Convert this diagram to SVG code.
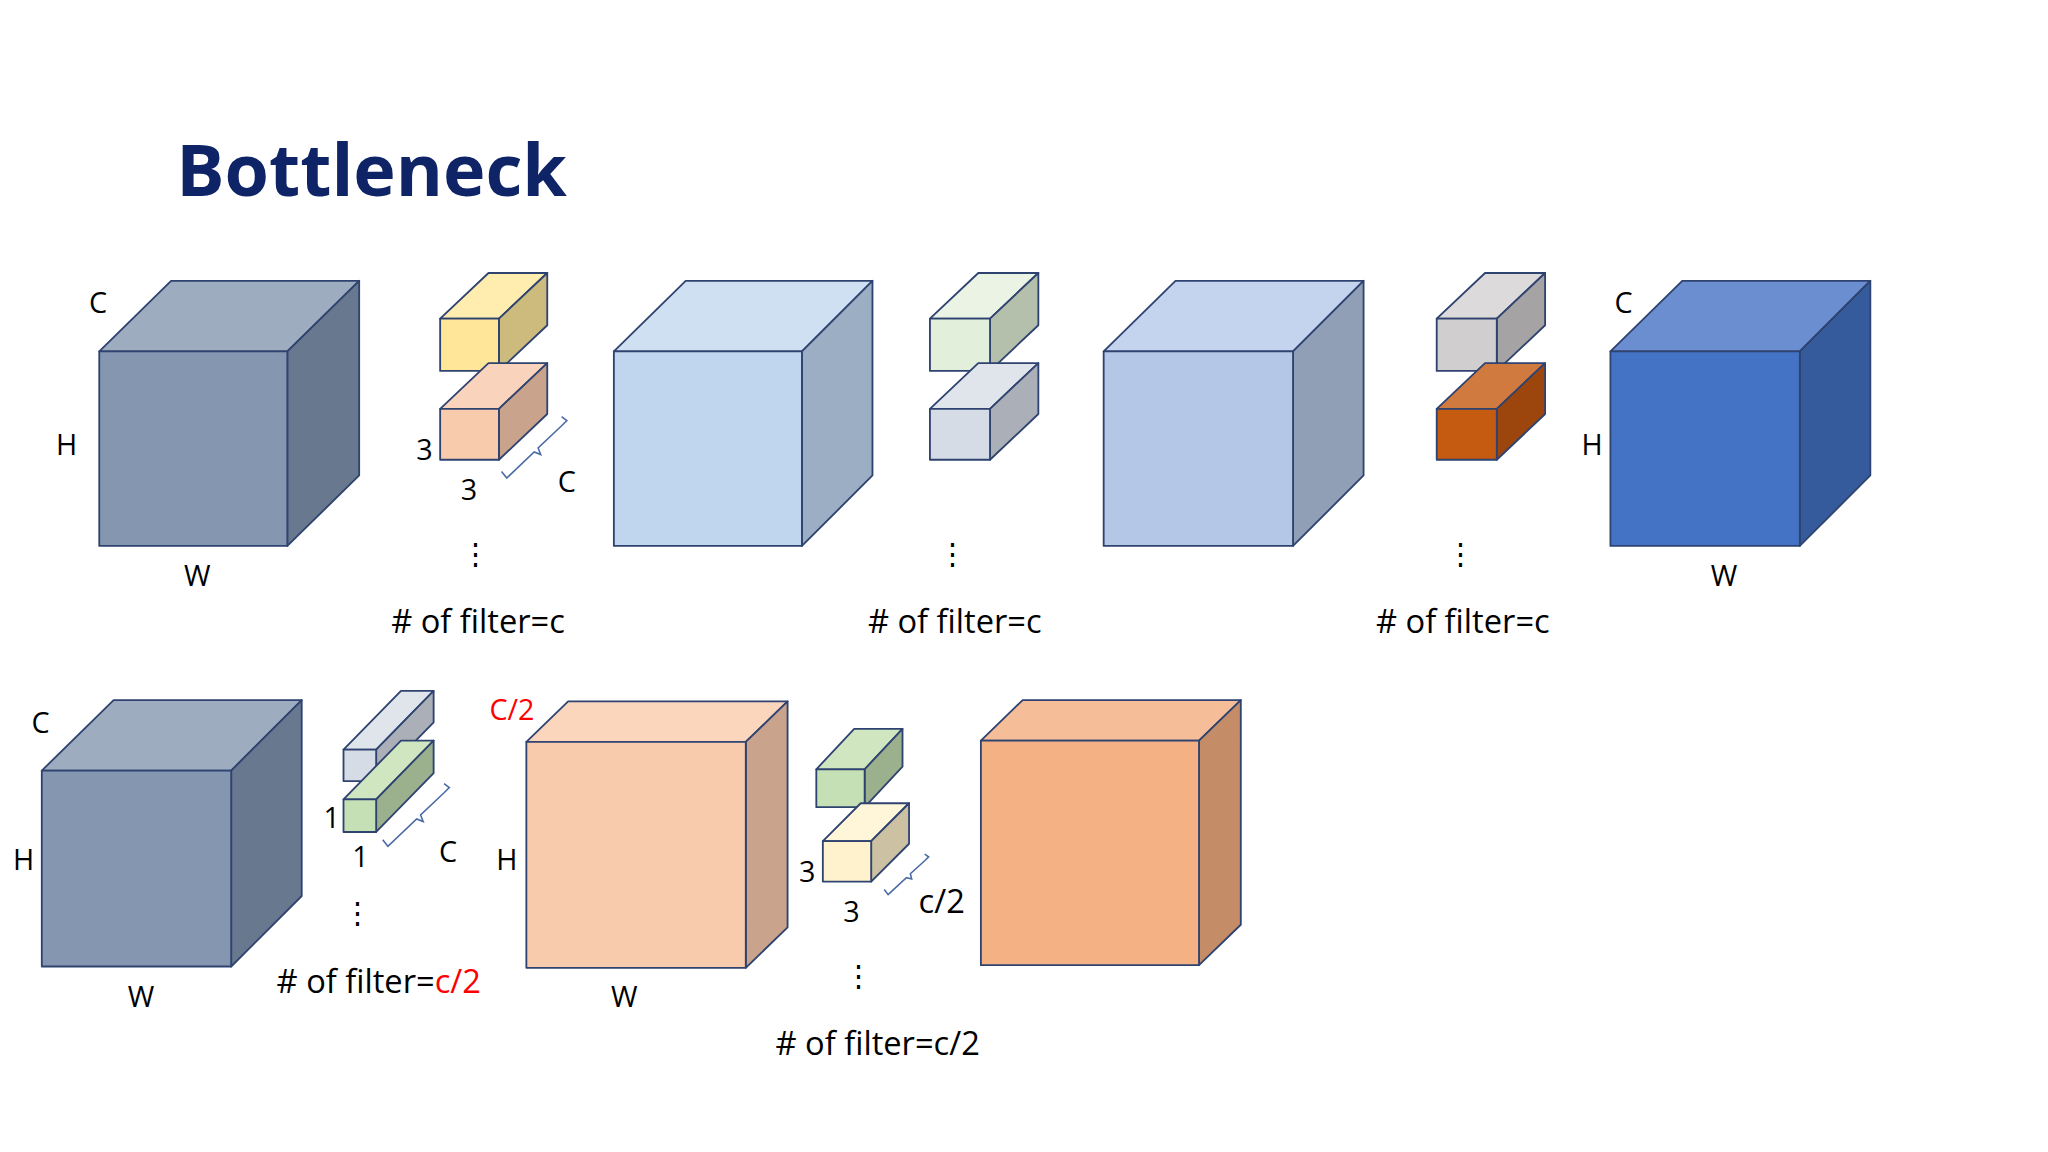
<svg xmlns="http://www.w3.org/2000/svg" width="2048" height="1152" viewBox="0 0 2048 1152">
<style>
.e{stroke:#2F4370;stroke-width:1.4;stroke-linejoin:round}
.t{font-family:"Open Sans","Liberation Sans",sans-serif;font-size:22px;fill:#000}
.f{font-size:25px}
.m{text-anchor:middle}
.b{fill:none;stroke:#4A6AA5;stroke-width:1.2}
</style>
<rect width="2048" height="1152" fill="#fff"/>
<g transform="scale(1.3061)">
<text x="135" y="150" style="font-family:'Open Sans','Liberation Sans',sans-serif;font-weight:bold;font-size:55px;fill:#0E2467">Bottleneck</text>

<g id="cube1" class="e">
<polygon points="76,269 220,269 275,215 131,215" fill="#9EACC0"/>
<polygon points="220,269 275,215 275,364 220,418" fill="#67788F"/>
<rect x="76" y="269" width="144" height="149" fill="#8496B0"/>
</g>
<g id="cube1-labels"><text class="t m" x="75" y="240">C</text><text class="t m" x="51" y="348">H</text><text class="t m" x="151" y="449">W</text></g>

<g id="filter1" class="e">
<polygon points="337,244 382,244 419,209 374,209" fill="#FFEDB0"/>
<polygon points="382,244 419,209 419,249 382,284" fill="#CDBB7E"/>
<rect x="337" y="244" width="45" height="40" fill="#FFE699"/>
<polygon points="337,313 382,313 419,278 374,278" fill="#FAD3BC"/>
<polygon points="382,313 419,278 419,317 382,352" fill="#C9A38B"/>
<rect x="337" y="313" width="45" height="39" fill="#F8CBAD"/>
</g>
<path class="b" d="M384,361 L388,366 L409,346 L414,348 L412,343 L430,326 L434,322 L430,319"/>
<text class="t m" x="325" y="352">3</text><text class="t m" x="359" y="383">3</text><text class="t m" x="434" y="377">C</text>
<text class="t m" x="364" y="432">⋮</text><text class="t f m" x="366" y="485"># of filter=c</text>

<g id="cube2" class="e">
<polygon points="470,269 614,269 668,215 525,215" fill="#CFE0F2"/>
<polygon points="614,269 668,215 668,364 614,418" fill="#9BAEC4"/>
<rect x="470" y="269" width="144" height="149" fill="#C0D6EE"/>
</g>
<g id="filter2" class="e">
<polygon points="712,244 758,244 795,209 749,209" fill="#EAF3E4"/>
<polygon points="758,244 795,209 795,249 758,284" fill="#B4BFAC"/>
<rect x="712" y="244" width="46" height="40" fill="#E2EFDA"/>
<polygon points="712,313 758,313 795,278 749,278" fill="#E0E5EC"/>
<polygon points="758,313 795,278 795,317 758,352" fill="#ABB0B8"/>
<rect x="712" y="313" width="46" height="39" fill="#D6DCE5"/>
</g>
<text class="t m" x="729" y="432">⋮</text><text class="t f m" x="731" y="485"># of filter=c</text>

<g id="cube3" class="e">
<polygon points="845,269 990,269 1044,215 900,215" fill="#C5D4EE"/>
<polygon points="990,269 1044,215 1044,364 990,418" fill="#919FB6"/>
<rect x="845" y="269" width="145" height="149" fill="#B4C7E7"/>
</g>
<g id="filter3" class="e">
<polygon points="1100,244 1146,244 1183,209 1137,209" fill="#DCDADA"/>
<polygon points="1146,244 1183,209 1183,249 1146,284" fill="#A5A3A3"/>
<rect x="1100" y="244" width="46" height="40" fill="#D0CECE"/>
<polygon points="1100,313 1146,313 1183,278 1137,278" fill="#D07A40"/>
<polygon points="1146,313 1183,278 1183,317 1146,352" fill="#9C460D"/>
<rect x="1100" y="313" width="46" height="39" fill="#C55A11"/>
</g>
<text class="t m" x="1118" y="432">⋮</text><text class="t f m" x="1120" y="485"># of filter=c</text>

<g id="cube4" class="e">
<polygon points="1233,269 1378,269 1432,215 1288,215" fill="#6A8ED0"/>
<polygon points="1378,269 1432,215 1432,364 1378,418" fill="#365B9C"/>
<rect x="1233" y="269" width="145" height="149" fill="#4472C4"/>
</g>
<g id="cube4-labels"><text class="t m" x="1243" y="240">C</text><text class="t m" x="1219" y="348">H</text><text class="t m" x="1320" y="449">W</text></g>

<g id="cube5" class="e">
<polygon points="32,590 177,590 231,536 87,536" fill="#9EACC0"/>
<polygon points="177,590 231,536 231,686 177,740" fill="#67788F"/>
<rect x="32" y="590" width="145" height="150" fill="#8496B0"/>
</g>
<g id="cube5-labels"><text class="t m" x="31" y="561">C</text><text class="t m" x="18" y="666">H</text><text class="t m" x="108" y="771">W</text></g>

<g id="filter4" class="e">
<polygon points="263,574 288,574 332,529 307,529" fill="#E0E5EC"/>
<polygon points="288,574 332,529 332,553 288,598" fill="#ABB0B8"/>
<rect x="263" y="574" width="25" height="24" fill="#D6DCE5"/>
<polygon points="263,612 288,612 332,567 307,567" fill="#CFE6C0"/>
<polygon points="288,612 332,567 332,592 288,637" fill="#9BB08D"/>
<rect x="263" y="612" width="25" height="25" fill="#C5E0B4"/>
</g>
<path class="b" d="M293,643 L297,648 L319,627 L324,629 L322,624 L340,607 L344,603 L340,600"/>
<text class="t m" x="254" y="634">1</text><text class="t m" x="276" y="664">1</text><text class="t m" x="343" y="660">C</text>
<text class="t m" x="274" y="707">⋮</text>
<text class="t f m" x="290" y="760"># of filter=<tspan fill="#FF0000">c/2</tspan></text>

<g id="cube6" class="e">
<polygon points="403,568 571,568 603,537 435,537" fill="#FBD5BC"/>
<polygon points="571,568 603,537 603,710 571,741" fill="#C9A38B"/>
<rect x="403" y="568" width="168" height="173" fill="#F8CBAD"/>
</g>
<g id="cube6-labels"><text class="t m" x="392" y="551" style="fill:#FF0000">C/2</text><text class="t m" x="388" y="666">H</text><text class="t m" x="478" y="771">W</text></g>

<g id="filter5" class="e">
<polygon points="625,589 662,589 691,558 654,558" fill="#CFE6C0"/>
<polygon points="662,589 691,558 691,587 662,618" fill="#9BB08D"/>
<rect x="625" y="589" width="37" height="29" fill="#C5E0B4"/>
<polygon points="630,644 667,644 696,615 659,615" fill="#FFF6DA"/>
<polygon points="667,644 696,615 696,646 667,675" fill="#CCC2A3"/>
<rect x="630" y="644" width="37" height="31" fill="#FFF2CC"/>
</g>
<path class="b" d="M677,681 L680,685 L694,672 L698,673 L697,669 L708,659 L711,656 L708,654"/>
<text class="t m" x="618" y="675">3</text><text class="t m" x="652" y="706">3</text><text class="t f m" x="721" y="699">c/2</text>
<text class="t m" x="657" y="755">⋮</text><text class="t f m" x="672" y="808"># of filter=c/2</text>

<g id="cube7" class="e">
<polygon points="751,567 918,567 950,536 783,536" fill="#F6BE98"/>
<polygon points="918,567 950,536 950,708 918,739" fill="#C48D68"/>
<rect x="751" y="567" width="167" height="172" fill="#F4B183"/>
</g>
</g>
</svg>
